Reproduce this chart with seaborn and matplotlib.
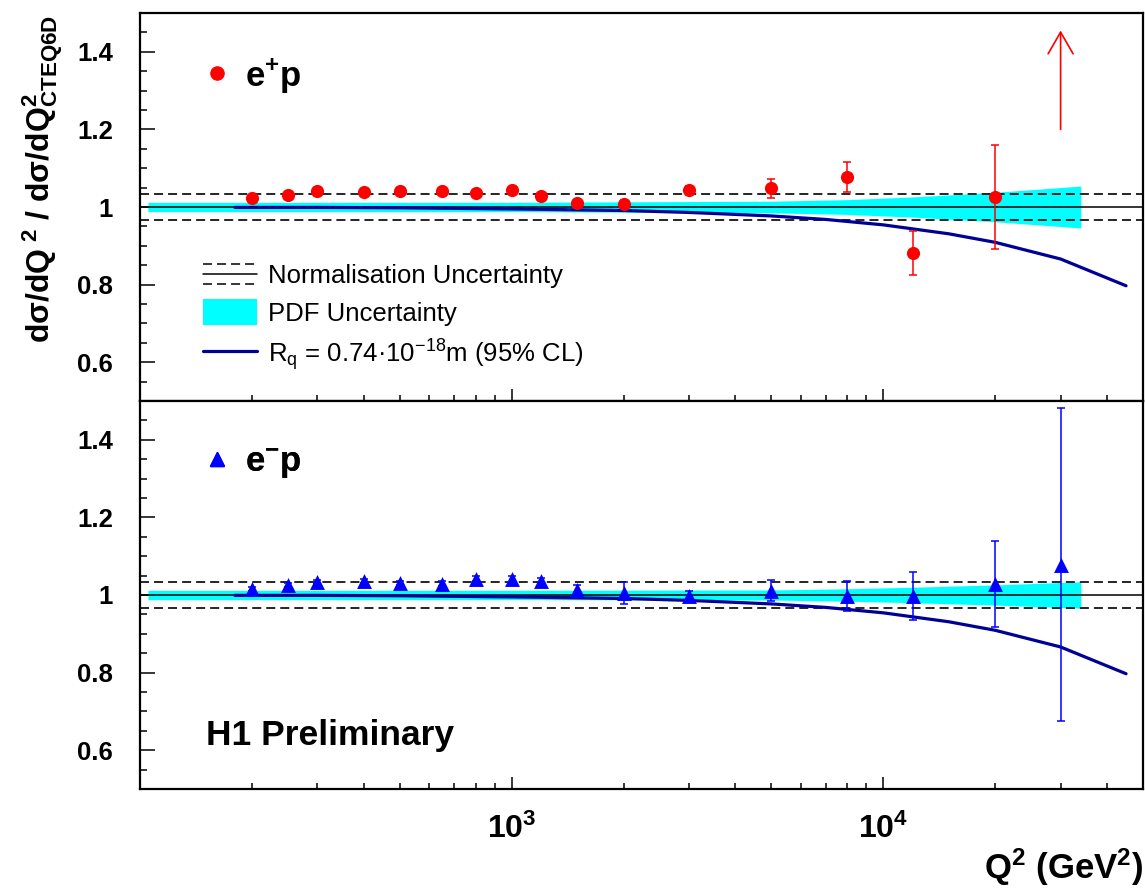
import matplotlib
matplotlib.use("Agg")
import numpy as np
import pandas as pd
import matplotlib.pyplot as plt
import seaborn as sns
from matplotlib.lines import Line2D
from matplotlib.patches import Patch
from matplotlib.legend_handler import HandlerBase
from matplotlib.ticker import FixedLocator, MultipleLocator, NullFormatter, FixedFormatter

# ---- values ----
q2_points = [200, 250, 300, 400, 500, 650, 800, 1000, 1200, 1500, 2000,
             3000, 5000, 8000, 12000, 20000, 30000]

# e+p : the 30000 point is off scale and shown as an arrow
ep_ratio = [1.023, 1.032, 1.042, 1.039, 1.041, 1.041, 1.036, 1.044, 1.029, 1.010,
            1.009, 1.043, 1.048, 1.077, 0.881, 1.026]
ep_err = [0.004, 0.004, 0.004, 0.004, 0.004, 0.005, 0.005, 0.006, 0.006, 0.007,
          0.008, 0.012, 0.025, 0.039, 0.057, 0.134]
ep_arrow_q2 = 30000
ep_arrow_from = 1.2
ep_arrow_to = 1.455

# e-p
em_ratio = [1.015, 1.026, 1.034, 1.036, 1.031, 1.029, 1.042, 1.041, 1.036, 1.013,
            1.006, 0.997, 1.011, 0.997, 0.997, 1.029, 1.078]
em_err = [0.005, 0.005, 0.005, 0.005, 0.006, 0.006, 0.007, 0.008, 0.009, 0.012,
          0.028, 0.014, 0.027, 0.038, 0.062, 0.111, 0.403]

# PDF uncertainty band (half width around 1)
band_q2 = [105, 1000, 5000, 8000, 12000, 20000, 34000]
ep_band = [0.012, 0.012, 0.015, 0.019, 0.026, 0.038, 0.054]
em_band = [0.012, 0.012, 0.013, 0.016, 0.020, 0.026, 0.034]

# quark radius curve
rq_q2 = [180, 300, 500, 1000, 2000, 3000, 5000, 7000, 10000, 15000, 20000, 30000, 45000]
rq_ratio = [0.999, 0.999, 0.998, 0.995, 0.991, 0.986, 0.977, 0.968, 0.954, 0.931,
            0.909, 0.866, 0.797]

norm_unc = 0.034

RED = "#ff0000"
BLUE = "#0000ff"
NAVY = "#000096"
CYAN = "#00ffff"

sns.set_theme(style="ticks")
plt.rcParams["font.family"] = ["Liberation Sans", "DejaVu Sans"]
plt.rcParams["mathtext.fontset"] = "custom"
plt.rcParams["mathtext.rm"] = "Liberation Sans"
plt.rcParams["mathtext.bf"] = "Liberation Sans:bold"
plt.rcParams["mathtext.it"] = "Liberation Sans:italic"
plt.rcParams["mathtext.sf"] = "Liberation Sans"
plt.rcParams["lines.scale_dashes"] = False
for key in ["text.color", "axes.labelcolor", "xtick.color", "ytick.color", "axes.edgecolor"]:
    plt.rcParams[key] = "black"

DASH = (0, (6.5, 3.6))


class NormHandler(HandlerBase):
    # dashed / solid / dashed stack for the normalisation entry
    def create_artists(self, legend, orig_handle, xdescent, ydescent,
                       width, height, fontsize, trans):
        x0, x1 = -xdescent, -xdescent + width
        yc = -ydescent + height / 2
        arts = []
        for off, ls in [(7.2, DASH), (0, "-"), (-7.2, DASH)]:
            arts.append(Line2D([x0, x1], [yc + off, yc + off], color="black",
                               lw=1.1, linestyle=ls, transform=trans))
        return arts


fig, axes = plt.subplots(2, 1, sharex=True, figsize=(11.45, 8.93), dpi=100)
fig.subplots_adjust(left=0.1223, right=0.9983, top=0.9854, bottom=0.1165, hspace=0)

ep_df = pd.DataFrame({"q2": q2_points[:len(ep_ratio)], "ratio": ep_ratio, "err": ep_err})
em_df = pd.DataFrame({"q2": q2_points, "ratio": em_ratio, "err": em_err})
rq_df = pd.DataFrame({"q2": rq_q2, "ratio": rq_ratio})

panels = [
    (axes[0], ep_df, ep_band, RED, "o", 90, r"$\mathbf{e^{+}p}$"),
    (axes[1], em_df, em_band, BLUE, "^", 115, r"$\mathbf{e^{-}p}$"),
]

for ax, df, band, col, mk, size, lab in panels:
    ax.set_xscale("log")
    lo = [1 - b for b in band]
    hi = [1 + b for b in band]
    ax.fill_between(band_q2, lo, hi, color=CYAN, lw=0, zorder=1)
    ax.axhline(1.0, color="black", lw=1.1, zorder=2)
    ax.axhline(1 + norm_unc, color="black", lw=1.2, ls=DASH, zorder=2)
    ax.axhline(1 - norm_unc, color="black", lw=1.2, ls=DASH, zorder=2)
    sns.lineplot(data=rq_df, x="q2", y="ratio", ax=ax, color=NAVY, lw=2.3,
                 estimator=None, legend=False, zorder=3)
    ax.errorbar(df["q2"], df["ratio"], yerr=df["err"], fmt="none", ecolor=col,
                elinewidth=1.1, capsize=3.1, capthick=1.1, zorder=4)
    sns.scatterplot(data=df, x="q2", y="ratio", ax=ax, color=col, marker=mk,
                    s=size, linewidth=0, zorder=5, legend=False)

    ax.set_xlim(100, 50000)
    ax.set_ylim(0.5, 1.5)
    ax.set_xlabel("")
    ax.set_ylabel("")
    ax.yaxis.set_major_locator(FixedLocator([0.6, 0.8, 1.0, 1.2, 1.4]))
    ax.yaxis.set_major_formatter(FixedFormatter(["0.6", "0.8", "1", "1.2", "1.4"]))
    ax.yaxis.set_minor_locator(MultipleLocator(0.05))
    ax.xaxis.set_major_locator(FixedLocator([1e3, 1e4]))
    ax.xaxis.set_minor_locator(FixedLocator([m * 10 ** k for k in (2, 3, 4)
                                             for m in range(2, 10) if m * 10 ** k < 50000]))
    ax.xaxis.set_minor_formatter(NullFormatter())
    ax.tick_params(which="both", direction="in", top=False, right=False, width=1.1,
                   color="black")
    ax.tick_params(axis="y", which="major", length=10.8, pad=19.4)
    ax.tick_params(axis="y", which="minor", length=5.0)
    ax.tick_params(axis="x", which="major", length=8.6, pad=18)
    ax.tick_params(axis="x", which="minor", length=4.6)
    for lbl in ax.get_yticklabels():
        lbl.set_fontsize(18.5)
        lbl.set_fontweight("bold")
        lbl.set_color("black")
    for sp in ax.spines.values():
        sp.set_linewidth(1.6)
        sp.set_color("black")
        sp.set_visible(True)

    # data-set label (marker + e±p)
    dleg = ax.legend(handles=[Line2D([], [], marker=mk, color=col, ls="none",
                                     ms=np.sqrt(size))],
                     labels=[lab], loc="center left", bbox_to_anchor=(0.0638, 0.84),
                     frameon=False, fontsize=25, handlelength=0.77, handletextpad=0.4,
                     borderpad=0, borderaxespad=0)
    ax.add_artist(dleg)

ax0, ax1 = axes

# off-scale e+p point
ax0.annotate("", xy=(ep_arrow_q2, ep_arrow_to), xytext=(ep_arrow_q2, ep_arrow_from),
             arrowprops=dict(arrowstyle="->,head_length=1.3,head_width=0.75",
                             color=RED, lw=1.2, shrinkA=0, shrinkB=0), zorder=6)

# legend of the theory lines
handles = [Line2D([], []), Patch(facecolor=CYAN, edgecolor="none"),
           Line2D([], [], color=NAVY, lw=2.3)]
labels = ["Normalisation Uncertainty", "PDF Uncertainty",
          "R$_\\mathregular{q}$ = 0.74·10$^{\\mathregular{-18}}$m (95% CL)"]
ax0.legend(handles=handles, labels=labels, loc="upper left",
           bbox_to_anchor=(0.0628, 0.36), frameon=False, fontsize=18.5,
           handlelength=2.1, handleheight=1.15, handletextpad=0.44,
           labelspacing=0.44, borderpad=0, borderaxespad=0,
           handler_map={handles[0]: NormHandler()})

ax0.tick_params(axis="x", labelbottom=False)
ax1.set_xticks([1e3, 1e4], labels=[r"$\mathbf{10^{3}}$", r"$\mathbf{10^{4}}$"])
for lbl in ax1.get_xticklabels():
    lbl.set_fontsize(23)

ax1.text(0.066, 0.139, "H1 Preliminary", transform=ax1.transAxes, fontsize=25.5,
         fontweight="bold", ha="left", va="center", color="black")

ax1.set_xlabel(r"$\mathbf{Q^{2}\ (GeV^{2})}$", fontsize=25, loc="right", labelpad=1)
fig.text(20 / 1145, 1 - 15 / 893,
         r"$\mathbf{d\sigma/dQ^{\ 2}\ /\ d\sigma/dQ^{2}_{CTEQ6D}}$",
         rotation=90, ha="left", va="top", fontsize=23, color="black")

fig.savefig("out.png", dpi=100)
